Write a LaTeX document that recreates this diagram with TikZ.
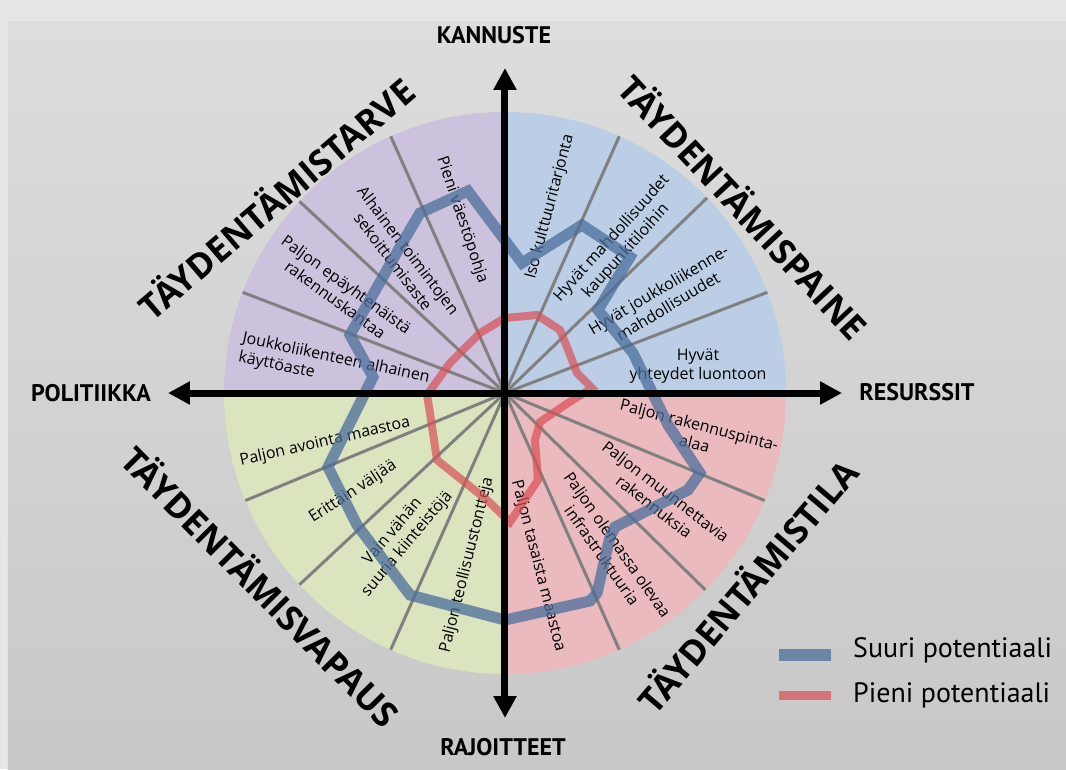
\documentclass[tikz,border=0pt]{standalone}
\usepackage{fontspec}
\setmainfont{Open Sans}
\newfontfamily\headfont{PT Sans}
\usetikzlibrary{arrows.meta}
\definecolor{bgframe}{RGB}{230,230,230}
\definecolor{bgtop}{RGB}{221,221,221}
\definecolor{bgbot}{RGB}{200,200,200}
\definecolor{purp}{RGB}{204,194,221}
\definecolor{blu}{RGB}{187,206,230}
\definecolor{grn}{RGB}{218,229,191}
\definecolor{pnk}{RGB}{234,186,190}
\definecolor{spokec}{RGB}{128,128,128}
\definecolor{bigline}{RGB}{76,110,156}
\definecolor{smallline}{RGB}{217,79,86}
\begin{document}
\begin{tikzpicture}[x=1pt,y=1pt,
  lbl/.style={font=\fontsize{16}{19}\selectfont, align=center, inner sep=0pt, text=black},
  bigl/.style={font=\fontsize{35}{40}\selectfont\bfseries, inner sep=0pt},
  axl/.style={font=\headfont\fontsize{24}{28}\selectfont\bfseries, inner sep=0pt},
  legl/.style={font=\headfont\fontsize{28}{30}\selectfont, inner sep=0pt, anchor=west},
  spoke/.style={draw=spokec, line width=3pt},
  suuri/.style={draw=bigline, draw opacity=0.75, line width=11pt, line join=miter},
  pieni/.style={draw=smallline, draw opacity=0.7, line width=8pt, line join=miter},
  axis/.style={line width=7pt, {Triangle[length=22pt,width=22pt]}-{Triangle[length=22pt,width=22pt]}}
]
% background
\fill[bgframe] (-505,-376) rectangle (561,393);
\shade[top color=bgtop, bottom color=bgbot] (-497,-376) rectangle (561,371);
\useasboundingbox (-505,-376) rectangle (561,393);

% sectors
\fill[blu] (0,0) -- (0:281) arc[start angle=0, end angle=90, radius=281] -- cycle;
\fill[purp] (0,0) -- (90:281) arc[start angle=90, end angle=180, radius=281] -- cycle;
\fill[grn] (0,0) -- (180:281) arc[start angle=180, end angle=270, radius=281] -- cycle;
\fill[pnk] (0,0) -- (270:281) arc[start angle=270, end angle=360, radius=281] -- cycle;

% spokes
\foreach \a in {21,44,66,114,137,159,202.5,223,246,294,315.5,337.5}
  \draw[spoke] (0,0) -- (\a:281);

% sector labels
\node[lbl, rotate=-71.5] (l1) at (-43,173) {Pieni väestöpohja};
\node[lbl, rotate=-52.7] (l2) at (-104,137) {Alhainen toimintojen\\sekoittumisaste};
\node[lbl, rotate=-36] (l3) at (-164,101) {Paljon epäyhtenäistä\\rakennuskantaa};
\node[lbl, rotate=-12, align=left] (l4) at (-171,25) {Joukkoliikenteen alhainen\\käyttöaste};
\node[lbl, rotate=75] (l5) at (45,186) {Iso kulttuuritarjonta};
\node[lbl, rotate=48] (l6) at (114,148) {Hyvät mahdollisuudet\\kaupunkitiloihin};
\node[lbl, rotate=30.7] (l7) at (158,95) {Hyvät joukkoliikenne-\\mahdollisuudet};
\node[lbl] (l8) at (193,27) {Hyvät\\yhteydet luontoon};
\node[lbl, rotate=-14.7] (l9) at (192,-41) {Paljon rakennuspinta-\\alaa};
\node[lbl, rotate=-37.6] (l10) at (155,-106) {Paljon muunnettavia\\rakennuksia};
\node[lbl, rotate=-55] (l11) at (105,-157) {Paljon olemassa olevaa\\infrastruktuuria};
\node[lbl, rotate=-75.5] (l12) at (33,-173) {Paljon tasaista maastoa};
\node[lbl, rotate=12.8] (l13) at (-180,-49) {Paljon avointa maastoa};
\node[lbl, rotate=33] (l14) at (-152,-99) {Erittäin väljää};
\node[lbl, rotate=50] (l15) at (-105,-145) {Vain vähän\\suuria kiinteistöjä};
\node[lbl, rotate=76] (l16) at (-38,-172) {Paljon teollisuustontteja};

% quadrant titles
\node[bigl, rotate=40.5] (q1) at (-230,196) {TÄYDENTÄMISTARVE};
\node[bigl, rotate=-47] (q2) at (240,187) {TÄYDENTÄMISPAINE};
\node[bigl, rotate=49.7] (q3) at (241,-192) {TÄYDENTÄMISTILA};
\node[bigl, rotate=-45.3] (q4) at (-243,-192) {TÄYDENTÄMISVAPAUS};

% potential polygons
\draw[pieni] (0,75) -- (32,78) -- (55,63) -- (62,46) -- (72,20) -- (87,5) -- (63,-10)
  -- (35,-29) -- (30,-47) -- (33,-87) -- (5,-129) -- (-18,-107) -- (-68,-67)
  -- (-75,-20) -- (-78,-2) -- (-55,30) -- (-25,60) -- cycle;
\draw[suuri] (-37,202) -- (17,130) -- (77,168) -- (125,136) -- (93,83) -- (128,40)
  -- (163,-32) -- (195,-80) -- (183,-97) -- (110,-134) -- (105,-144) -- (92,-200)
  -- (85,-208) -- (0,-227) -- (-95,-202) -- (-148,-132) -- (-177,-74) -- (-132,16)
  -- (-155,58) -- (-105,146) -- (-85,180) -- cycle;

% axes
\coordinate (top) at (0,325);
\coordinate (bot) at (0,-325);
\coordinate (lft) at (-337,0);
\coordinate (rgt) at (337,0);
\draw[axis] (lft) -- (rgt);
\draw[axis] (bot) -- (top);
\node[axl] (kan) at (-11,358) {KANNUSTE};
\node[axl] (raj) at (-2,-354) {RAJOITTEET};
\node[axl] (pol) at (-414,0) {POLITIIKKA};
\node[axl] (res) at (412,1) {RESURSSIT};

% legend
\coordinate (s1) at (274,-262);
\coordinate (s2) at (326,-262);
\coordinate (p1) at (274,-302);
\coordinate (p2) at (326,-302);
\draw[draw=bigline, draw opacity=0.75, line width=12pt] (s1) -- (s2);
\draw[draw=smallline, draw opacity=0.7, line width=9pt] (p1) -- (p2);
\node[legl] (ls) at (348,-257) {Suuri potentiaali};
\node[legl] (lp) at (348,-302) {Pieni potentiaali};
\end{tikzpicture}
\end{document}
